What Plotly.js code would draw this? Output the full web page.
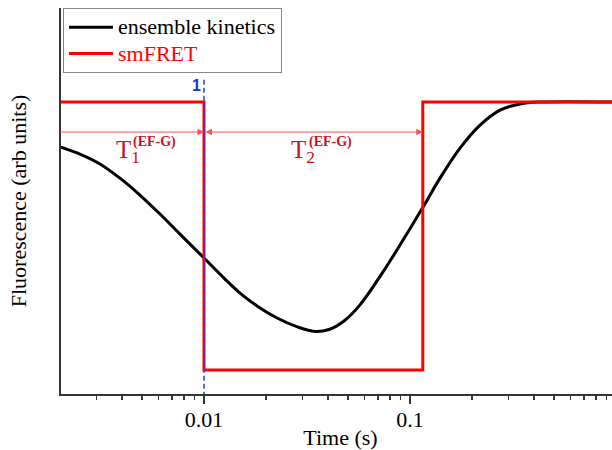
<!DOCTYPE html>
<html>
<head>
<meta charset="utf-8">
<script src="https://cdn.plot.ly/plotly-3.0.1.min.js"></script>
<style>
html,body{margin:0;padding:0;overflow:hidden;background:#fff;}
#chart{width:640px;height:450px;}
</style>
</head>
<body>
<div id="chart"></div>
<script>
// Ensemble kinetics curve (time in s, fluorescence in arb units)
const timeS = [0.00202, 0.00250, 0.003126, 0.003908, 0.004887, 0.006114, 0.007645, 0.0100, 0.01251, 0.01496, 0.01809, 0.02262, 0.02859, 0.03457, 0.04044, 0.04781, 0.05718, 0.07393, 0.09247, 0.1156, 0.1398, 0.1748, 0.2187, 0.2734, 0.342, 0.4277, 1.0];
const ensembleFluor = [0.832, 0.806, 0.769, 0.716, 0.653, 0.582, 0.507, 0.418, 0.343, 0.287, 0.239, 0.194, 0.160, 0.144, 0.151, 0.183, 0.243, 0.366, 0.485, 0.608, 0.716, 0.828, 0.914, 0.970, 0.993, 1.0, 1.0];
// smFRET single-molecule step trace
const smfretTime = [0.0019, 0.01, 0.01, 0.1153, 0.1153, 1.05];
const smfretFluor = [1, 1, 0, 0, 1, 1];
// event marker 1 (EF-G binding) and dwell boundaries
const markerTime = [0.01, 0.01];
const markerFluor = [-0.1, 1.093];
const markerLabel = "1";
const dwellStart = 0.00202;
const dwell1End = 0.01;
const dwell2End = 0.1153;
const dwellLevel = 0.888;
const tickVals = [0.01, 0.1, 1];
const tickText = ["0.01", "0.1", "1"];
const minorVals = [0.003,0.004,0.005,0.006,0.007,0.008,0.009,0.02,0.03,0.04,0.05,0.06,0.07,0.08,0.09,0.2,0.3,0.4,0.5,0.6,0.7,0.8,0.9];

const serif = "Liberation Serif";
const dark = "#c8101e";
const L = Math.log10;

const traces = [
  {x: timeS, y: ensembleFluor, type: "scatter", mode: "lines",
   name: '<span style="font-size:22px">ensemble kinetics</span>',
   line: {color: "#000000", width: 3, shape: "spline", smoothing: 1}},
  {x: smfretTime, y: smfretFluor, type: "scatter", mode: "lines",
   name: '<span style="color:#ff0000;font-size:22px">smFRET</span>',
   line: {color: "#ff0000", width: 3}},
  {x: markerTime, y: markerFluor, type: "scatter", mode: "lines", showlegend: false,
   line: {color: "#2a3af0", width: 1.5, dash: "5px,3px"}}
];

const arrowCommon = {xref: "x", yref: "y", axref: "x", ayref: "y", text: "", showarrow: true,
  arrowcolor: "#ff5050", arrowwidth: 1, arrowhead: 2, arrowsize: 1.3, startarrowhead: 2, startarrowsize: 1.3};

const annotations = [
  Object.assign({}, arrowCommon, {x: L(dwell1End), y: dwellLevel, ax: L(dwellStart) - 0.01, ay: dwellLevel, arrowside: "end"}),
  Object.assign({}, arrowCommon, {x: L(dwell2End), y: dwellLevel, ax: L(dwell1End), ay: dwellLevel, arrowside: "end+start"}),
  {xref: "x", yref: "y", x: -2.437, y: 0.88, xanchor: "left", yanchor: "top", showarrow: false,
   text: "T<sub>1</sub>", font: {family: serif, size: 25, color: dark}},
  {xref: "x", yref: "y", x: -2.352, y: 0.851, xanchor: "left", yanchor: "middle", showarrow: false,
   text: "<b>(EF-G)</b>", font: {family: serif, size: 14, color: dark}},
  {xref: "x", yref: "y", x: -1.587, y: 0.88, xanchor: "left", yanchor: "top", showarrow: false,
   text: "T<sub>2</sub>", font: {family: serif, size: 25, color: dark}},
  {xref: "x", yref: "y", x: -1.502, y: 0.851, xanchor: "left", yanchor: "middle", showarrow: false,
   text: "<b>(EF-G)</b>", font: {family: serif, size: 14, color: dark}},
  {xref: "x", yref: "y", x: -2.034, y: 1.063, xanchor: "center", yanchor: "middle", showarrow: false,
   text: "<b>" + markerLabel + "</b>", font: {family: "Liberation Sans", size: 16, color: "#2030d0"}}
];

const layout = {
  width: 640, height: 450,
  margin: {l: 61, r: 20, t: 8, b: 56},
  paper_bgcolor: "#ffffff", plot_bgcolor: "#ffffff",
  showlegend: true,
  legend: {x: 0.0036, y: 1, xanchor: "left", yanchor: "top", bgcolor: "#ffffff",
    bordercolor: "#888888", borderwidth: 1, font: {family: serif, size: 18, color: "#000"},
    itemwidth: 44, tracegroupgap: 0},
  xaxis: {type: "log", range: [-2.694, 0.019], showline: true, linecolor: "#333", linewidth: 2,
    ticks: "outside", ticklen: 8, tickwidth: 1.5, tickcolor: "#333",
    tickmode: "array", tickvals: tickVals, ticktext: tickText, ticklabelstandoff: -3,
    tickfont: {family: serif, size: 22, color: "#000"},
    showgrid: false, zeroline: false,
    minor: {tickmode: "array", tickvals: minorVals, ticks: "outside", ticklen: 4, tickwidth: 1.5, tickcolor: "#333", showgrid: false},
    title: {text: "Time (s)", font: {family: serif, size: 22, color: "#000"}, standoff: 0},
    automargin: false},
  yaxis: {range: [-0.0896, 1.351], showline: true, linecolor: "#333", linewidth: 2,
    ticks: "", showticklabels: false, showgrid: false, zeroline: false,
    title: {text: "Fluorescence (arb units)", font: {family: serif, size: 22, color: "#000"}, standoff: 26},
    automargin: false},
  annotations: annotations
};

Plotly.newPlot("chart", traces, layout, {displayModeBar: false, staticPlot: true});
</script>
</body>
</html>
